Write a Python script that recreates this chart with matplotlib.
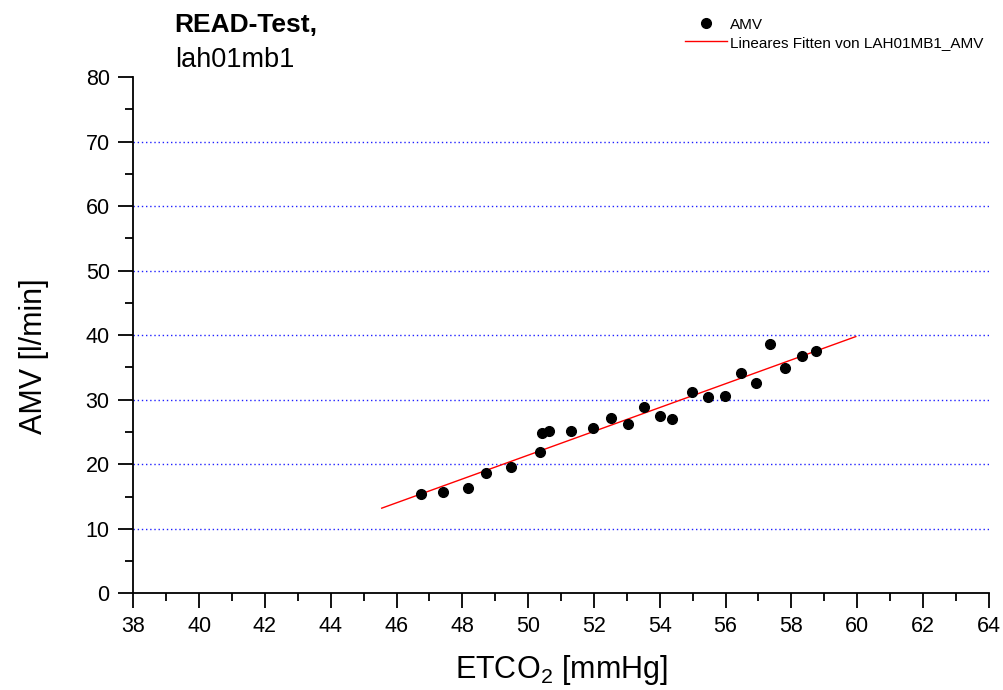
import numpy as np
import matplotlib.pyplot as plt
from matplotlib.lines import Line2D

plt.rcParams['font.family'] = ['Liberation Sans', 'DejaVu Sans']
plt.rcParams['mathtext.fontset'] = 'custom'
plt.rcParams['mathtext.rm'] = 'Liberation Sans'
plt.rcParams['mathtext.it'] = 'Liberation Sans:italic'
plt.rcParams['mathtext.bf'] = 'Liberation Sans:bold'

# ETCO2 [mmHg] and AMV [l/min]
etco2 = [46.74, 47.42, 48.17, 48.71, 49.49, 50.35, 50.41, 50.64, 51.29, 51.98,
         52.51, 53.03, 53.52, 54.01, 54.38, 54.99, 55.48, 55.98, 56.46, 56.92,
         57.35, 57.81, 58.32, 58.74]
amv = [15.43, 15.65, 16.3, 18.6, 19.57, 21.85, 24.79, 25.1, 25.1, 25.66,
       27.16, 26.28, 28.82, 27.47, 27.0, 31.19, 30.46, 30.57, 34.09, 32.54,
       38.67, 34.96, 36.82, 37.49]
fit_range = [45.55, 59.96]

slope, icpt = np.polyfit(etco2, amv, 1)
fx = np.array(fit_range)
fy = slope * fx + icpt

fig = plt.figure(figsize=(10.04, 6.90), dpi=100)
ax = fig.add_axes([0.1328, 0.1401, 0.852, 0.7483])

for yv in range(10, 80, 10):
    ax.axhline(yv, color='#2020ff', linestyle=(0, (1, 2)), linewidth=1.0, zorder=0)

ax.plot(fx, fy, color='red', linewidth=1.0, zorder=2)
ax.plot(etco2, amv, 'o', color='black', markersize=7, zorder=3)

ax.set_xlim(38, 64)
ax.set_ylim(0, 80)
ax.set_xticks(range(38, 65, 2))
ax.set_xticks(range(38, 65, 1), minor=True)
ax.set_yticks(range(0, 81, 10))
ax.set_yticks(range(0, 81, 5), minor=True)
ax.spines['top'].set_visible(False)
ax.spines['right'].set_visible(False)
for s in ['left', 'bottom']:
    ax.spines[s].set_linewidth(1.3)
ax.tick_params(which='major', direction='out', length=11, width=1.3, labelsize=15.5)
ax.tick_params(axis='x', which='major', pad=5)
ax.tick_params(axis='y', which='major', pad=6)
ax.tick_params(which='minor', direction='out', length=6, width=1.3)

ax.set_xlabel('ETCO$_2$ [mmHg]', fontsize=22, va='baseline')
ax.set_ylabel('AMV [l/min]', fontsize=22, va='baseline')
ax.xaxis.set_label_coords(0.5, -0.164)
ax.yaxis.set_label_coords(-0.107, 0.46)

fig.text(0.174, 0.9536, 'READ-Test,', fontsize=19, fontweight='bold', va='baseline')
fig.text(0.174, 0.9029, 'lah01mb1', fontsize=19.5, va='baseline')

# legend drawn by hand in figure coordinates
fig.add_artist(Line2D([0.7032], [0.9667], marker='o', color='black',
                      markersize=7, linestyle='none', transform=fig.transFigure))
fig.add_artist(Line2D([0.6823, 0.7241], [0.9406, 0.9406], color='red',
                      linewidth=1.0, transform=fig.transFigure))
fig.text(0.7271, 0.958, 'AMV', fontsize=11, va='baseline')
fig.text(0.7271, 0.9319, 'Lineares Fitten von LAH01MB1_AMV', fontsize=11, va='baseline')

fig.savefig('out.png', dpi=100)
